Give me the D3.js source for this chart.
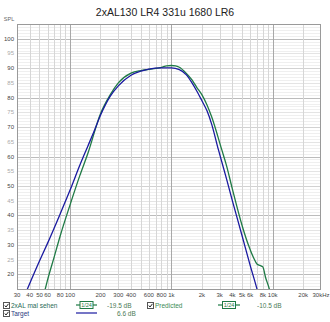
<!DOCTYPE html>
<html>
<head>
<meta charset="utf-8">
<script src="https://cdn.jsdelivr.net/npm/d3@7"></script>
<style>
  body { margin: 0; background: #fff; }
  svg { display: block; font-family: "Liberation Sans", Arial, sans-serif; }
</style>
</head>
<body>
<svg width="330" height="322"></svg>
<script>
const title = "2xAL130 LR4 331u 1680 LR6"

// target curve (blue)
const targetFreq = [33, 38, 50, 60, 80, 100, 125, 150, 175, 200, 250, 300, 400, 500, 600, 800, 1000, 1200, 1400, 1600, 1800, 2000, 2250, 2500, 2910, 3500, 4000, 5000, 6000, 7000, 7600]
const targetDb   = [10, 15, 24.5, 30.5, 40.5, 48.5, 57, 63.5, 69, 74, 80.5, 84, 87.6, 89, 89.7, 90.1, 90.1, 89.5, 87.8, 85, 82, 79, 75.5, 71, 62.4, 52.5, 45, 33, 23, 15, 10]

// predicted curve (green)
const predFreq = [52, 57, 60, 70, 80, 100, 125, 150, 200, 250, 300, 400, 500, 600, 800, 900, 1000, 1100, 1200, 1400, 1600, 1780, 2000, 2250, 2500, 3140, 3500, 4000, 5000, 5840, 6500, 7000, 7500, 8000, 8500, 9270, 10000]
const predDb   = [10, 15, 18, 26, 33, 43.5, 53.5, 61, 74.5, 81, 85, 88.3, 89.2, 89.6, 90.3, 90.8, 90.9, 90.8, 90.3, 88.3, 86, 83.5, 81, 77.5, 73.5, 62.4, 57, 49, 36.5, 29.4, 25.5, 23.5, 23, 22.5, 19, 15, 10]

const xTickVals  = [30, 40, 50, 60, 80, 100, 200, 300, 400, 600, 800, 1000, 2000, 3000, 4000, 5000, 6000, 8000, 10000, 20000, 30000]
const xTickNames = ["30", "40", "50", "60", "80", "100", "200", "300", "400", "600", "800", "1k", "2k", "3k", "4k", "5k", "6k", "8k", "10k", "20k", "30kHz"]
const yTickVals  = [100, 95, 90, 85, 80, 75, 70, 65, 60, 55, 50, 45, 40, 35, 30, 25, 20]

const pLeft = 17, pRight = 321, pTop = 24, pBottom = 289
const svg = d3.select("svg")

const x = d3.scaleLog().domain([30, 30000]).range([pLeft, pRight])
const y = d3.scaleLinear().domain([15, 105]).range([pBottom, pTop])

// title
svg.append("text").attr("x", 165).attr("y", 15.5).attr("text-anchor", "middle")
  .style("font-size", "10.5px").style("fill", "#222").text(title)

svg.append("text").attr("x", 9).attr("y", 20.5).attr("text-anchor", "middle")
  .style("font-size", "5.5px").style("fill", "#666").text("SPL")

// grid - horizontal, 1 dB steps
const g = svg.append("g")
d3.range(15, 106).forEach(v => {
  let c = "#efefef"
  if (v % 5 == 0) c = "#e4e4e4"
  if (v % 10 == 0) c = "#d2d2d2"
  if (v % 20 == 0) c = "#bcbcbc"
  g.append("line").attr("x1", pLeft).attr("x2", pRight)
    .attr("y1", Math.round(y(v)) + 0.5).attr("y2", Math.round(y(v)) + 0.5)
    .attr("stroke", c).attr("stroke-width", 1)
})

// grid - vertical
const vLines = []
for (let d = 10; d <= 10000; d *= 10) {
  for (let k = 1; k < 10; k++) {
    const f = d * k
    if (f > 30 && f < 30000) vLines.push(f)
  }
}
vLines.forEach(f => {
  const major = [100, 1000, 10000].includes(f)
  g.append("line").attr("y1", pTop).attr("y2", pBottom)
    .attr("x1", Math.round(x(f)) + 0.5).attr("x2", Math.round(x(f)) + 0.5)
    .attr("stroke", major ? "#a8a8a8" : "#d6d6d6").attr("stroke-width", 1)
})

// frame
svg.append("rect").attr("x", pLeft + 0.5).attr("y", pTop + 0.5)
  .attr("width", pRight - pLeft - 1).attr("height", pBottom - pTop)
  .attr("fill", "none").attr("stroke", "#9a9a9a").attr("stroke-width", 1)

// axis labels
yTickVals.forEach(v => {
  svg.append("text").attr("x", 14).attr("y", y(v) + 2)
    .attr("text-anchor", "end").style("font-size", "6px")
    .style("fill", v % 10 == 0 ? "#444" : "#aaa").text(v)
})
xTickVals.forEach((v, i) => {
  svg.append("text").attr("x", x(v)).attr("y", 297)
    .attr("text-anchor", "middle").style("font-size", "6px")
    .style("fill", "#444").text(xTickNames[i])
})

// curves
svg.append("clipPath").attr("id", "clip").append("rect")
  .attr("x", pLeft).attr("y", pTop).attr("width", pRight - pLeft).attr("height", pBottom - pTop)

const line = d3.line().x(d => x(d[0])).y(d => y(d[1])).curve(d3.curveMonotoneX)

const curves = svg.append("g").attr("clip-path", "url(#clip)")
curves.append("path").datum(predFreq.map((f, i) => [f, predDb[i]]))
  .attr("d", line).attr("fill", "none").attr("stroke", "#1f7a45").attr("stroke-width", 1.3)
curves.append("path").datum(targetFreq.map((f, i) => [f, targetDb[i]]))
  .attr("d", line).attr("fill", "none").attr("stroke", "#1a1aa0").attr("stroke-width", 1.3)

// legend
function checkbox(cx, cy) {
  svg.append("rect").attr("x", cx + 0.5).attr("y", cy + 0.5).attr("width", 6).attr("height", 6)
    .attr("fill", "#fff").attr("stroke", "#555")
  svg.append("path").attr("d", `M${cx + 1.8},${cy + 3.5} L${cx + 3},${cy + 5} L${cx + 5.5},${cy + 1.8}`)
    .attr("fill", "none").attr("stroke", "#222").attr("stroke-width", 1)
}
function smoothSym(x0, x1, cy, color) {
  svg.append("line").attr("x1", x0).attr("x2", x1).attr("y1", cy).attr("y2", cy)
    .attr("stroke", color).attr("stroke-width", 1.2)
  const m = (x0 + x1) / 2
  svg.append("rect").attr("x", m - 6.5).attr("y", cy - 3.5).attr("width", 13).attr("height", 7)
    .attr("fill", "#fff").attr("stroke", color).attr("stroke-width", 1)
  svg.append("text").attr("x", m).attr("y", cy + 2).attr("text-anchor", "middle")
    .style("font-size", "5.5px").style("fill", color).text("1/24")
}
function label(tx, ty, s, color) {
  svg.append("text").attr("x", tx).attr("y", ty).style("font-size", "6.5px")
    .style("fill", color).text(s)
}

checkbox(3, 302)
label(11, 307.5, "2xAL mal sehen", "#2a6a55")
smoothSym(76, 97, 305, "#1f7a45")
label(107, 307.5, "-19.5 dB", "#4d7a55")
checkbox(147, 302)
label(155, 307.5, "Predicted", "#3a8a55")
smoothSym(218, 240, 305, "#1f7a45")
label(257, 307.5, "-10.5 dB", "#4d7a55")

checkbox(3, 310)
label(11, 315.5, "Target", "#2a3a80")
svg.append("line").attr("x1", 76).attr("x2", 97).attr("y1", 313).attr("y2", 313)
  .attr("stroke", "#1a1aa0").attr("stroke-width", 1.2)
label(117, 315.5, "6.6 dB", "#4d7a55")
</script>
</body>
</html>
